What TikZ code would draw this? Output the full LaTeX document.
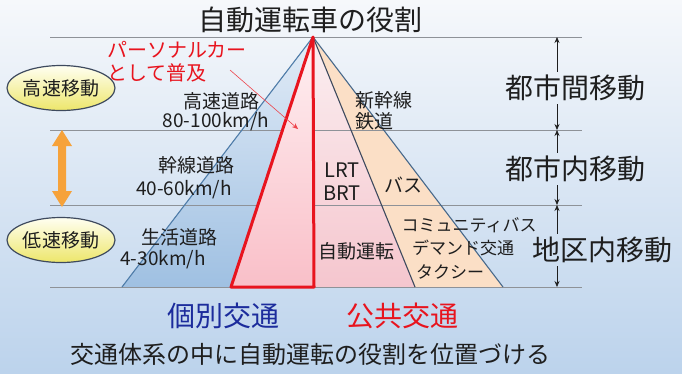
\documentclass[tikz,border=0pt]{standalone}
\usepackage{fontspec}
\setmainfont{Noto Sans CJK JP}
\usetikzlibrary{arrows.meta,shapes.geometric}
\definecolor{bgtop}{HTML}{F6F8FB}
\definecolor{bgbot}{HTML}{BCD3EC}
\definecolor{blueT}{HTML}{E2ECF7}
\definecolor{blueB}{HTML}{9FC0E2}
\definecolor{pinkT}{HTML}{FBEFF1}
\definecolor{pinkB}{HTML}{F5C6CE}
\definecolor{redT}{HTML}{FFF0F2}
\definecolor{redB}{HTML}{F9BFC8}
\definecolor{peach}{HTML}{FBDFC6}
\definecolor{myred}{HTML}{E8141E}
\definecolor{myblue}{HTML}{1C2C9C}
\definecolor{edgeblue}{HTML}{4F7DAA}
\definecolor{edgedark}{HTML}{3E4A5E}
\definecolor{gridgray}{HTML}{8E9298}
\definecolor{txt}{HTML}{1E1E1E}
\definecolor{orangeA}{HTML}{F6A23A}
\definecolor{ellT}{HTML}{FFFFF2}
\definecolor{ellB}{HTML}{EDE66A}
\tikzset{
  lbl/.style={inner sep=1pt, text=txt, font=\fontsize{19}{22}\selectfont},
  small/.style={inner sep=1pt, text=txt, font=\fontsize{17}{20}\selectfont},
  big/.style={inner sep=3pt, text=txt, font=\fontsize{28}{32}\selectfont},
  oval/.style={ellipse, draw=edgedark, line width=1.2pt, top color=ellT, bottom color=ellB,
    minimum width=108pt, minimum height=45pt, inner sep=0pt, text=txt, font=\fontsize{19}{22}\selectfont},
  hline/.style={draw=gridgray, line width=0.9pt},
  dim/.style={draw=txt, line width=0.7pt, -{Stealth[length=6pt,width=5pt]}},
}
\begin{document}
\begin{tikzpicture}[x=1pt,y=-1pt]
\useasboundingbox (0,0) rectangle (682,373);
\fill[top color=bgtop, bottom color=bgbot] (0,0) rectangle (682,373);

% pyramid points
\coordinate (A) at (313,37);
\coordinate (BL) at (122,287);
\coordinate (RL) at (231,287);
\coordinate (RV) at (314,287);
\coordinate (DK) at (415,287);
\coordinate (BR) at (503,287);

\fill[top color=blueT, bottom color=blueB] (A) -- (BL) -- (RL) -- cycle;
\fill[top color=pinkT, bottom color=pinkB] (A) -- (RV) -- (DK) -- cycle;
\fill[peach] (A) -- (DK) -- (BR) -- cycle;

% horizontal guide lines
\coordinate (g1l) at (50,37);  \coordinate (g1r) at (582,37);
\coordinate (g2l) at (50,130); \coordinate (g2r) at (582,130);
\coordinate (g3l) at (50,205); \coordinate (g3r) at (582,205);
\coordinate (g4l) at (50,287); \coordinate (g4r) at (582,287);
\draw[hline] (g1l) -- (g1r);
\draw[hline] (g2l) -- (g2r);
\draw[hline] (g3l) -- (g3r);
\draw[hline] (g4l) -- (g4r);

\draw[edgeblue, line width=1.1pt] (A) -- (BL);
\draw[edgedark, line width=1.1pt] (A) -- (DK);
\draw[edgeblue!60!edgedark, line width=1.1pt] (A) -- (BR);
\draw[myred, line width=3pt, line join=round, top color=redT, bottom color=redB] (A) -- (RL) -- (RV) -- cycle;

% title
\node[big] (title) at (310,20) {自動運転車の役割};

% personal car
\node[anchor=west, inner sep=0pt, text=myred, font=\fontsize{20}{22}\selectfont] (pc1) at (107,50) {パーソナルカー};
\node[anchor=west, inner sep=0pt, text=myred, font=\fontsize{20}{22}\selectfont] (pc2) at (107,73) {として普及};
\coordinate (ra) at (230,70);
\coordinate (rb) at (298,129);
\draw[myred!80, line width=0.6pt, -{Stealth[length=6pt,width=5pt]}] (ra) -- (rb);

% ellipses and orange arrow
\node[oval] (e1) at (61,88) {高速移動};
\node[oval] (e2) at (61,240) {低速移動};
\fill[orangeA] (62,130) -- (72,146) -- (66,146) -- (66,191) -- (72,191) -- (62,207)
  -- (52,191) -- (58,191) -- (58,146) -- (52,146) -- cycle;

% private roads
\node[lbl] (hw1) at (221,101) {高速道路};
\node[lbl] (hw2) at (216,122) {80-100km/h};
\node[lbl] (ar1) at (196,165) {幹線道路};
\node[lbl] (ar2) at (184,190) {40-60km/h};
\node[lbl] (lr1) at (179,237) {生活道路};
\node[lbl] (lr2) at (163,260) {4-30km/h};

% public transport
\node[lbl, font=\fontsize{20}{22}\selectfont] (lrt) at (342,170) {LRT};
\node[lbl, font=\fontsize{20}{22}\selectfont] (brt) at (342,193) {BRT};
\node[lbl] (bus) at (403,185) {バス};
\node[lbl] (shk) at (384,100) {新幹線};
\node[lbl, anchor=west] (tet) at (354,121) {鉄道};
\node[lbl] (auto) at (356,251) {自動運転};
\node[small] (cb) at (469,225) {コミュニティバス};
\node[small] (dm) at (463,248) {デマンド交通};
\node[small] (tx) at (450,272) {タクシー};

% right labels and dimension arrows
\node[big] (d1) at (575,88) {都市間移動};
\node[big] (d2) at (575,169) {都市内移動};
\node[big] (d3) at (602,250) {地区内移動};
\coordinate (h1) at (557,37);
\coordinate (h2) at (557,130);
\coordinate (h3) at (557,205);
\coordinate (h4) at (557,287);
\draw[dim] (h1 |- d1.north) -- (h1);
\draw[dim] (h1 |- d1.south) -- (h2);
\draw[dim] (h1 |- d2.north) -- (h2);
\draw[dim] (h1 |- d2.south) -- (h3);
\draw[dim] (h1 |- d3.north) -- (h3);
\draw[dim] (h1 |- d3.south) -- (h4);

% bottom labels
\node[big, text=myblue] (ind) at (223,316) {個別交通};
\node[big, text=myred] (pub) at (402,316) {公共交通};
\node[inner sep=1pt, text=txt, font=\fontsize{24}{26}\selectfont] (cap) at (310,354) {交通体系の中に自動運転の役割を位置づける};
\end{tikzpicture}
\end{document}
